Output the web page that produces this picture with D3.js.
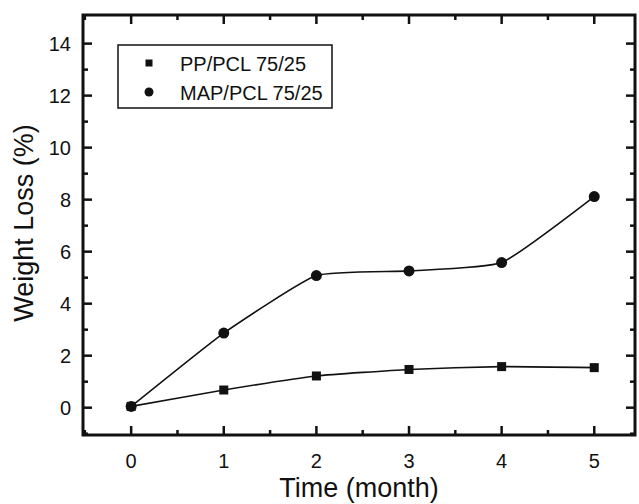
<!DOCTYPE html>
<html>
<head>
<meta charset="utf-8">
<script src="https://cdn.jsdelivr.net/npm/d3@7"></script>
<style>
  body { margin: 0; background: #fff; }
  text { font-family: "Liberation Sans", Arial, sans-serif; fill: #111; }
</style>
</head>
<body>
<svg id="chart" width="639" height="504"></svg>
<script>
// data
var months = [0, 1, 2, 3, 4, 5];
var ppPcl = [0.05, 0.68, 1.22, 1.47, 1.58, 1.54];
var mapPcl = [0.05, 2.87, 5.08, 5.26, 5.58, 8.12];
var seriesNames = ["PP/PCL 75/25", "MAP/PCL 75/25"];
var xTicks = [0, 1, 2, 3, 4, 5];
var yTicks = [0, 2, 4, 6, 8, 10, 12, 14];

var svg = d3.select("#chart"),
    margin = { top: 15, left: 83, bottom: 69, right: 4 },
    width = +svg.attr("width"),
    height = +svg.attr("height");

var x = d3.scaleLinear().domain([-0.52, 5.44]).range([margin.left, width - margin.right]);
var y = d3.scaleLinear().domain([-1.05, 15.1]).range([height - margin.bottom, margin.top]);

var x0 = margin.left, x1 = width - margin.right,
    y0 = height - margin.bottom, y1 = margin.top;

// ticks inside the frame, major + minor
var xMinor = d3.range(-0.5, 5.5, 0.5).filter(d => d % 1 != 0);
var yMinor = d3.range(-1, 15, 2);

var ticks = svg.append("g").attr("stroke", "#111").attr("stroke-width", 2.5);

xTicks.forEach(function (d) {
    ticks.append("line").attr("x1", x(d)).attr("x2", x(d)).attr("y1", y0).attr("y2", y0 - 9);
    ticks.append("line").attr("x1", x(d)).attr("x2", x(d)).attr("y1", y1).attr("y2", y1 + 9);
});
xMinor.forEach(function (d) {
    ticks.append("line").attr("x1", x(d)).attr("x2", x(d)).attr("y1", y0).attr("y2", y0 - 5);
    ticks.append("line").attr("x1", x(d)).attr("x2", x(d)).attr("y1", y1).attr("y2", y1 + 5);
});
yTicks.forEach(function (d) {
    ticks.append("line").attr("x1", x0).attr("x2", x0 + 9).attr("y1", y(d)).attr("y2", y(d));
    ticks.append("line").attr("x1", x1).attr("x2", x1 - 9).attr("y1", y(d)).attr("y2", y(d));
});
yMinor.forEach(function (d) {
    ticks.append("line").attr("x1", x0).attr("x2", x0 + 5).attr("y1", y(d)).attr("y2", y(d));
    ticks.append("line").attr("x1", x1).attr("x2", x1 - 5).attr("y1", y(d)).attr("y2", y(d));
});

// frame
svg.append("rect")
    .attr("x", x0).attr("y", y1)
    .attr("width", x1 - x0).attr("height", y0 - y1)
    .attr("fill", "none").attr("stroke", "#111").attr("stroke-width", 3);

// tick labels
svg.append("g").selectAll("text")
    .data(xTicks).enter().append("text")
    .attr("x", d => x(d)).attr("y", y0 + 33)
    .attr("text-anchor", "middle").attr("font-size", 20)
    .text(d => d);

svg.append("g").selectAll("text")
    .data(yTicks).enter().append("text")
    .attr("x", 71).attr("y", d => y(d) + 7)
    .attr("text-anchor", "end").attr("font-size", 20)
    .text(d => d);

// axis titles
svg.append("text")
    .attr("x", 359).attr("y", 497)
    .attr("text-anchor", "middle").attr("font-size", 27)
    .text("Time (month)");

svg.append("text")
    .attr("transform", "translate(33,223) rotate(-90)")
    .attr("text-anchor", "middle").attr("font-size", 27)
    .text("Weight Loss (%)");

// curves
var line = d3.line()
    .x(d => x(d[0]))
    .y(d => y(d[1]))
    .curve(d3.curveCardinal.tension(0.55));

[ppPcl, mapPcl].forEach(function (vals) {
    svg.append("path")
        .datum(months.map((m, i) => [m, vals[i]]))
        .attr("fill", "none").attr("stroke", "#111").attr("stroke-width", 1.6)
        .attr("d", line);
});

// markers
svg.append("g").selectAll("rect")
    .data(months).enter().append("rect")
    .attr("x", (d, i) => x(d) - 4.5).attr("y", (d, i) => y(ppPcl[i]) - 4.5)
    .attr("width", 9).attr("height", 9).attr("fill", "#111");

svg.append("g").selectAll("circle")
    .data(months).enter().append("circle")
    .attr("cx", d => x(d)).attr("cy", (d, i) => y(mapPcl[i]))
    .attr("r", 5.5).attr("fill", "#111");

// legend
var legend = svg.append("g");
legend.append("rect")
    .attr("x", 118).attr("y", 45).attr("width", 214).attr("height", 63)
    .attr("fill", "#fff").attr("stroke", "#111").attr("stroke-width", 1.5);

var rows = legend.selectAll("g.row")
    .data(seriesNames).enter().append("g")
    .attr("class", "row")
    .attr("transform", (d, i) => "translate(0," + (63 + i * 29) + ")");

rows.filter((d, i) => i == 0).append("rect")
    .attr("x", 145.5).attr("y", -3.5).attr("width", 7).attr("height", 7).attr("fill", "#111");
rows.filter((d, i) => i == 1).append("circle")
    .attr("cx", 149).attr("cy", 0).attr("r", 4.5).attr("fill", "#111");

rows.append("text")
    .attr("x", 180).attr("y", 7.5).attr("font-size", 20)
    .text(d => d);
</script>
</body>
</html>
